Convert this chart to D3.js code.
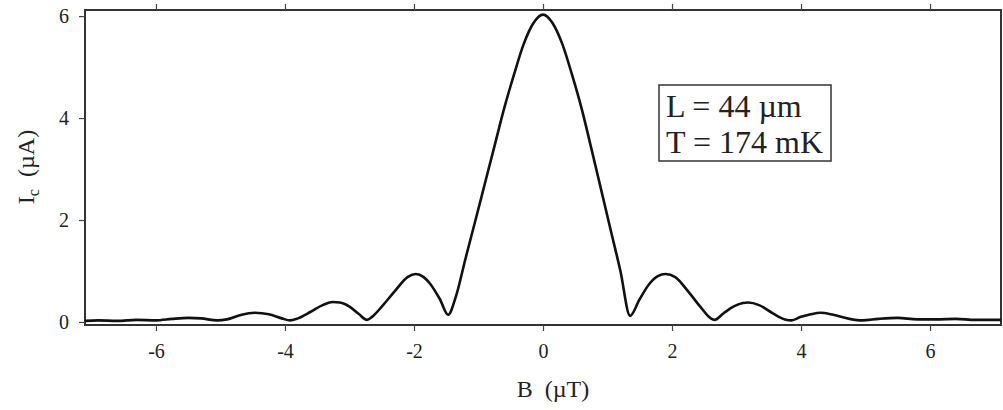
<!DOCTYPE html>
<html>
<head>
<meta charset="utf-8">
<script src="https://cdn.jsdelivr.net/npm/d3@7"></script>
<style>
  html, body { margin: 0; padding: 0; background: #fff; }
  svg { display: block; font-family: "Liberation Serif", "Times New Roman", serif; }
</style>
</head>
<body>
<svg id="chart" width="1003" height="410"></svg>
<script>
// ---- data (B in µT, Ic in µA) ----
const fieldB = [
  -7.1, -6.9, -6.6, -6.3, -6.0, -5.75, -5.5, -5.3, -5.05, -4.9, -4.7, -4.47, -4.25, -4.05,
  -3.92, -3.8, -3.6, -3.4, -3.26, -3.15, -3.0, -2.85, -2.73, -2.65, -2.5, -2.3, -2.1, -1.97,
  -1.85, -1.75, -1.6, -1.47, -1.35, -1.2, -1.05, -0.9, -0.75, -0.6, -0.45, -0.3, -0.15, 0,
  0.15, 0.3, 0.45, 0.6, 0.75, 0.9, 1.05, 1.2, 1.35, 1.5, 1.65, 1.78, 1.9, 2.05, 2.25, 2.45,
  2.6, 2.66, 2.8, 2.95, 3.1, 3.18, 3.35, 3.55, 3.75, 3.85, 4.0, 4.15, 4.3, 4.5, 4.75, 4.95,
  5.2, 5.5, 5.8, 6.1, 6.4, 6.7, 7.1
];
const currentIc = [
  0.02, 0.03, 0.02, 0.04, 0.03, 0.06, 0.08, 0.07, 0.03, 0.05, 0.13, 0.18, 0.15, 0.07,
  0.03, 0.07, 0.2, 0.34, 0.39, 0.38, 0.3, 0.15, 0.04, 0.1, 0.3, 0.6, 0.88, 0.94,
  0.88, 0.75, 0.45, 0.14, 0.5, 1.25, 1.98, 2.72, 3.46, 4.2, 4.85, 5.45, 5.86, 6.03,
  5.86, 5.45, 4.85, 4.18, 3.4, 2.6, 1.8, 1.0, 0.12, 0.45, 0.75, 0.9, 0.94, 0.88, 0.6, 0.28,
  0.07, 0.04, 0.17, 0.3, 0.37, 0.38, 0.33, 0.18, 0.05, 0.03, 0.1, 0.15, 0.18, 0.14, 0.06, 0.03,
  0.06, 0.08, 0.05, 0.05, 0.06, 0.04, 0.04
];
const xTicks = [-6, -4, -2, 0, 2, 4, 6];
const yTicks = [0, 2, 4, 6];
const legendLines = ["L = 44 \u00b5m", "T = 174 mK"];

const points = fieldB.map((b, i) => ({ b, ic: currentIc[i] }));

// ---- layout ----
const svg = d3.select("#chart");
const plotL = 85, plotR = 1001, plotT = 10, plotB = 325;
const ink = "#222";

const x = d3.scaleLinear().domain([-7.1, 7.1]).range([plotL, plotR]);
const y = d3.scaleLinear().domain([-0.06, 6.12]).range([plotB, plotT]);

// frame
svg.append("rect")
  .attr("x", plotL).attr("y", plotT)
  .attr("width", plotR - plotL).attr("height", plotB - plotT)
  .attr("fill", "none").attr("stroke", "#333").attr("stroke-width", 2);

// bottom axis
const xAxis = svg.append("g")
  .attr("transform", `translate(0,${plotB})`)
  .call(d3.axisBottom(x).tickValues(xTicks).tickSize(6).tickPadding(13)
    .tickFormat(d => d < 0 ? "-" + Math.abs(d) : String(d)));
xAxis.select(".domain").remove();
xAxis.selectAll("text").attr("font-size", 20).attr("font-family", "Liberation Serif").attr("fill", ink);
xAxis.selectAll("line").attr("stroke", "#444").attr("stroke-width", 1.2);

// top axis (ticks only)
const xTop = svg.append("g")
  .attr("transform", `translate(0,${plotT})`)
  .call(d3.axisTop(x).tickValues(xTicks).tickSize(6).tickFormat(""));
xTop.select(".domain").remove();
xTop.selectAll("line").attr("stroke", "#444").attr("stroke-width", 1.2);

// left axis
const yAxis = svg.append("g")
  .attr("transform", `translate(${plotL},0)`)
  .call(d3.axisLeft(y).tickValues(yTicks).tickSize(6).tickPadding(10).tickFormat(d3.format("d")));
yAxis.select(".domain").remove();
yAxis.selectAll("text").attr("font-size", 20).attr("font-family", "Liberation Serif").attr("fill", ink);
yAxis.selectAll("line").attr("stroke", "#444").attr("stroke-width", 1.2);

// curve
const line = d3.line()
  .x(d => x(d.b))
  .y(d => y(d.ic))
  .curve(d3.curveMonotoneX);

svg.append("path")
  .datum(points)
  .attr("d", line)
  .attr("fill", "none")
  .attr("stroke", "#111")
  .attr("stroke-width", 2.6)
  .attr("stroke-linejoin", "round");

// axis labels
svg.append("text")
  .attr("x", 553).attr("y", 397)
  .attr("text-anchor", "middle")
  .attr("font-size", 24).attr("fill", ink)
  .attr("xml:space", "preserve")
  .text("B  (\u00b5T)");

const yLab = svg.append("text")
  .attr("transform", "translate(34,167) rotate(-90)")
  .attr("text-anchor", "middle")
  .attr("font-size", 24).attr("fill", ink);
yLab.append("tspan").text("I");
yLab.append("tspan").attr("font-size", 16).attr("dy", 5).text("c");
yLab.append("tspan").attr("dy", -5).attr("xml:space", "preserve").text("  (\u00b5A)");

// legend box
svg.append("rect")
  .attr("x", 659).attr("y", 85)
  .attr("width", 172).attr("height", 76)
  .attr("fill", "#fff").attr("stroke", "#333").attr("stroke-width", 1.5);

svg.append("g").selectAll("text")
  .data(legendLines)
  .join("text")
  .attr("x", 666)
  .attr("y", (d, i) => 117 + i * 36)
  .attr("font-size", 32)
  .attr("fill", ink)
  .text(d => d);
</script>
</body>
</html>
